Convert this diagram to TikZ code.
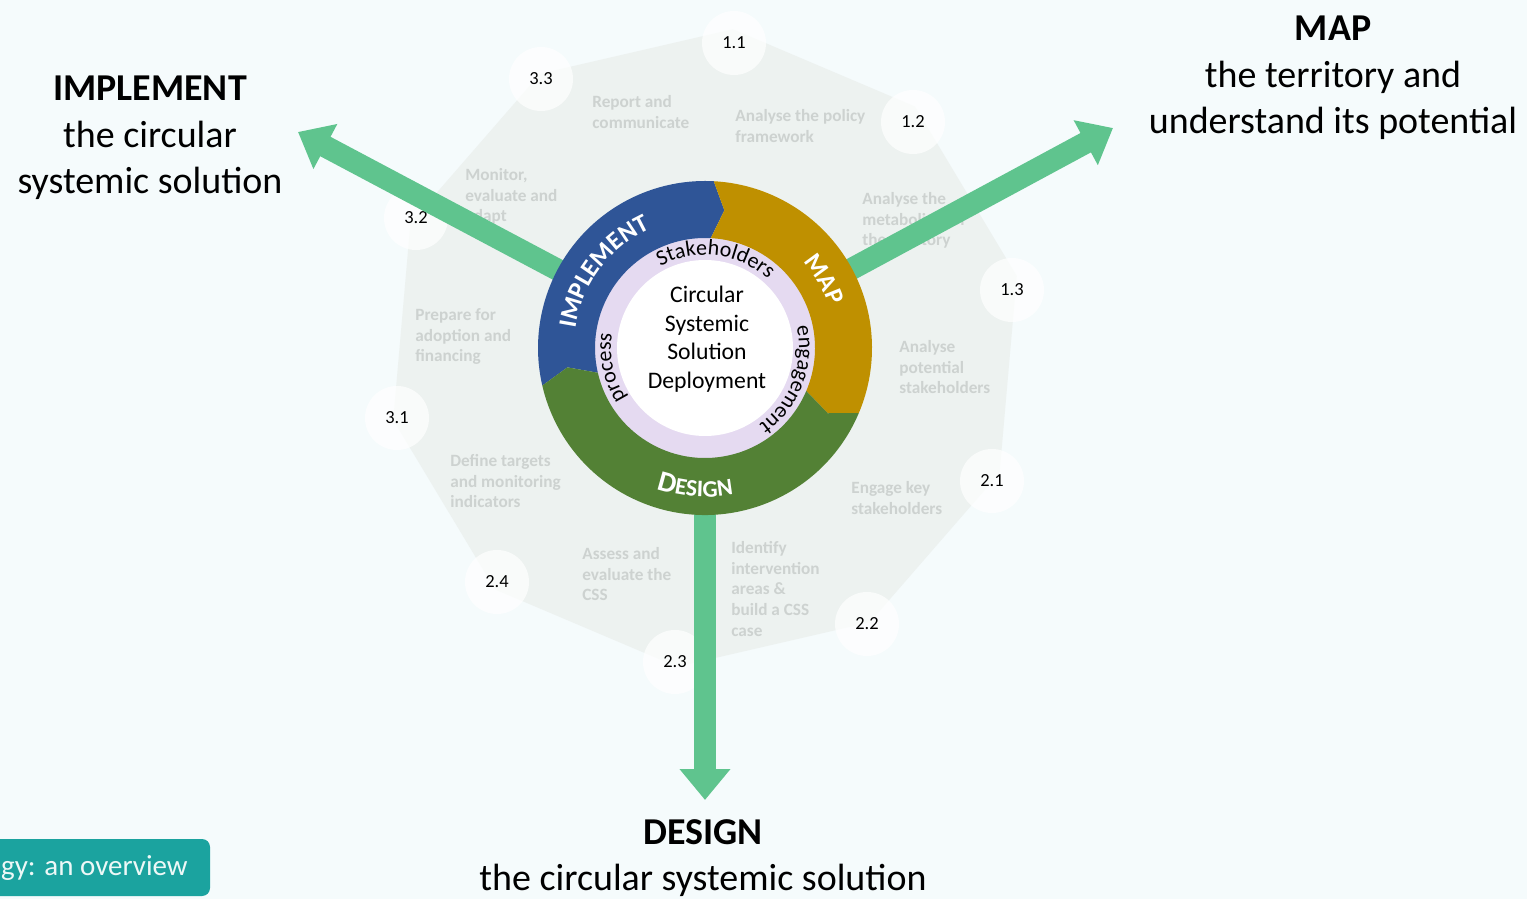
\documentclass[tikz,border=0pt]{standalone}
\usepackage{fontspec}
\setmainfont{Carlito}
\usetikzlibrary{arrows.meta,decorations.text}

\definecolor{bg}{HTML}{F5FBFC}
\definecolor{deca}{HTML}{EDF2F0}
\definecolor{steptxt}{HTML}{CDD2D0}
\definecolor{arrowgreen}{HTML}{5FC48E}
\definecolor{implblue}{HTML}{2F5597}
\definecolor{mapgold}{HTML}{BF9000}
\definecolor{desgreen}{HTML}{538135}
\definecolor{lavender}{HTML}{E5DAF1}
\definecolor{tealbox}{HTML}{1BA39F}

\tikzset{
  steptext/.style={anchor=north west, align=left, inner sep=0pt, text=steptxt,
    font=\fontsize{9.8}{11.8}\selectfont\bfseries},
  numlabel/.style={inner sep=0pt, font=\fontsize{10.5}{12}\selectfont},
  pinblob/.style={fill=white, opacity=0.7},
  heading/.style={align=center, inner sep=0pt, font=\fontsize{21.6}{26.6}\selectfont},
  bigarrow/.style={arrowgreen, line width=0.44cm, -{Triangle[width=0.98cm, length=0.62cm]}},
  ringtext/.style={decorate, decoration={text along path, text align=center, text={#1}}},
}

% one coloured part of the ring, from #1 to #2 (clockwise)
\newcommand{\ringpart}[3]{%
  \fill[#3] (#1:167) arc[start angle=#1, end angle=#2, radius=167] -- (#2-5:139)
    -- (#2:110) arc[start angle=#2, end angle=#1, radius=110] -- (#1-5:139) -- cycle;}

\begin{document}
\begin{tikzpicture}[x=0.02cm, y=0.02cm]
\fill[bg] (0,0) rectangle (1527,899);
\useasboundingbox (0,0) rectangle (1527,899);

\coordinate (c) at (705,551);

% faint decagon
\begin{scope}[shift={(c)}]
\fill[deca] (85:320) \foreach \k in {1,...,9} { -- (85-36*\k:320) } -- cycle;
\end{scope}

% numbered corners
\foreach \nm/\lbl/\x/\y in {11/1.1/734/856, 12/1.2/913/777, 13/1.3/1012/609,
    21/2.1/992/418, 22/2.2/867/275, 23/2.3/675/237, 24/2.4/497/317,
    31/3.1/397/481, 32/3.2/416/681, 33/3.3/541/820} {
  \fill[pinblob] (\x,\y) circle[radius=32];
  \node[numlabel] (n\nm) at (\x,\y) {\lbl};
}

% step texts
\node[steptext] (s11) at (735,790) {Analyse the policy\\framework};
\node[steptext] (s12) at (862,707) {Analyse the\\metabolism of\\the territory};
\node[steptext] (s13) at (899,559) {Analyse\\potential\\stakeholders};
\node[steptext] (s21) at (851,418) {Engage key\\stakeholders};
\node[steptext] (s22) at (731,358) {Identify\\intervention\\areas \&\\build a CSS\\case};
\node[steptext] (s23) at (582,352) {Assess and\\evaluate the\\CSS};
\node[steptext] (s24) at (450,445) {Define targets\\and monitoring\\indicators};
\node[steptext] (s31) at (415,591) {Prepare for\\adoption and\\financing};
\node[steptext] (s32) at (465,731) {Monitor,\\evaluate and\\adapt};
\node[steptext] (s33) at (592,804) {Report and\\communicate};

% arrows
\coordinate (maptip) at (1113,771);
\coordinate (impltip) at (298,767);
\coordinate (destip) at (705,99);
\draw[bigarrow] (c) -- (maptip);
\draw[bigarrow] (c) -- (impltip);
\draw[bigarrow] (c) -- (destip);

% the wheel
\begin{scope}[shift={(c)}]
\fill[lavender] (0,0) circle[radius=112];
\fill[white] (0,0) circle[radius=88];
\ringpart{193}{87}{implblue}
\ringpart{87}{-23}{mapgold}
\ringpart{-23}{-167}{desgreen}
\node[align=center, inner sep=0pt, font=\fontsize{13.5}{16.2}\selectfont] (css) at (2,9)
  {Circular\\Systemic\\Solution\\Deployment};
\path[ringtext={|\fontsize{14.5}{14.5}\selectfont\bfseries|IMPLEMENT}, decoration={text color=white}]
  (200:131) arc[start angle=200, end angle=86, radius=131];
\path[ringtext={|\fontsize{14.5}{14.5}\selectfont\bfseries|MAP}, decoration={text color=white}]
  (70:131) arc[start angle=70, end angle=-10, radius=131];
\path[ringtext={|\fontsize{16.5}{16.5}\selectfont\bfseries|D|\fontsize{13.5}{13.5}\selectfont\bfseries|ESIGN}, decoration={text color=white}]
  (206:149) arc[start angle=206, end angle=326, radius=149];
\path[ringtext={|\fontsize{12.5}{12.5}\selectfont|Stakeholders}]
  (133:93) arc[start angle=133, end angle=33, radius=93];
\path[ringtext={|\fontsize{12.5}{12.5}\selectfont|engagement}]
  (24:94) arc[start angle=24, end angle=-66, radius=94];
\path[ringtext={|\fontsize{12.5}{12.5}\selectfont|process}]
  (227:94) arc[start angle=227, end angle=157, radius=94];
\end{scope}

% headings
\node[heading] (implttl) at (150,761) {\textbf{IMPLEMENT}\\the circular\\systemic solution};
\node[heading] (mapttl) at (1333,821) {\textbf{MAP}\\the territory and\\understand its potential};
\node[heading] (designttl) at (703,41) {\textbf{DESIGN}\\the circular systemic solution};

% tag bottom left
\fill[tealbox, rounded corners=0.16cm] (-40,3) rectangle (210,60);
\node[anchor=east, inner sep=0pt, text=white!92!tealbox, font=\fontsize{16.5}{18}\selectfont] (tag) at (188,31) {gy: an overview};
\end{tikzpicture}
\end{document}
